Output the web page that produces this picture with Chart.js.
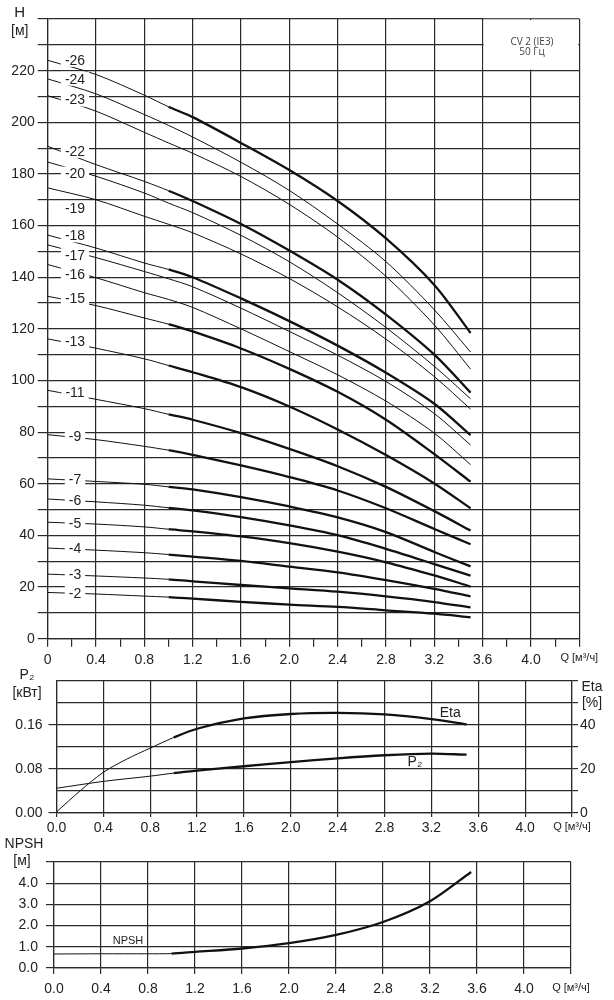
<!DOCTYPE html>
<html>
<head>
<meta charset="utf-8">
<script src="https://cdn.jsdelivr.net/npm/chart.js@4.4.1/dist/chart.umd.min.js"></script>
<style>
  html, body { margin: 0; padding: 0; background: #fff; }
  #wrap { position: relative; width: 614px; height: 1000px; }
  #wrap canvas { position: absolute; left: 0; }
</style>
</head>
<body>
<div id="wrap">
  <canvas id="headChart" width="614" height="672" style="top:0"></canvas>
  <canvas id="powerChart" width="614" height="176" style="top:664px"></canvas>
  <canvas id="npshChart" width="614" height="170" style="top:830px"></canvas>
</div>
<script>
// flow points, m3/h
const flow = [0, 0.4, 0.8, 1.0, 1.2, 1.6, 2.0, 2.4, 2.8, 3.2, 3.5];

// head per model, m
const head26 = [224, 218.5, 210.5, 206, 202, 192, 181.5, 169.5, 155, 137, 118.4];
const head24 = [216.8, 211, 203, 198.8, 194.3, 184.5, 173.6, 160.6, 146, 127.4, 111];
const head23 = [210.3, 204.3, 196.1, 192, 188, 179, 168.2, 155.5, 140.3, 121.5, 104.4];
const head22 = [190.7, 183.6, 177.1, 173.5, 169.5, 160.6, 150.3, 139, 125.5, 110, 95.3];
const head20 = [184.6, 179.1, 172.6, 168.7, 165, 156.2, 146, 134, 120.5, 105.5, 92.9];
const head19 = [174.6, 170, 163.6, 160.5, 157.2, 149, 139.5, 128.5, 116, 101.5, 88.9];
const head18 = [156.3, 151.3, 145.5, 143, 140, 131.8, 123, 113.5, 103, 91, 78.8];
const head17 = [152.5, 147.6, 142.2, 139.4, 136.3, 128, 119, 109.8, 99.6, 87.2, 75];
const head16 = [144.9, 139.8, 134, 131.4, 128.3, 120, 111.2, 102.2, 92, 79.6, 67.4];
const head15 = [132.6, 129, 124.2, 121.8, 119, 112.4, 104.5, 95.6, 84.8, 71.5, 60.8];
const head13 = [116.1, 112.5, 108.4, 105.8, 103.2, 97.4, 89.9, 81, 71.1, 60.1, 50.5];
const head11 = [96.2, 92.7, 89.1, 86.9, 84.8, 79.6, 73.5, 66.8, 58.8, 49.4, 41.9];
const head9 = [79, 77.1, 74.5, 73, 71.2, 67.1, 62.6, 57.4, 50.5, 42.5, 36.6];
const head7 = [61.9, 60.9, 59.8, 58.8, 57.8, 54.8, 51.2, 47, 41.3, 33.6, 28];
const head6 = [54.1, 53, 51.7, 50.7, 49.7, 47.1, 43.9, 40.1, 34.8, 28.9, 24.4];
const head5 = [45.1, 44.4, 43.3, 42.4, 41.6, 39.6, 37, 33.7, 29.6, 24.5, 20.2];
const head4 = [35.1, 34.3, 33.3, 32.6, 31.8, 30.1, 27.9, 25.7, 22.7, 19.3, 16.4];
const head3 = [25, 24.3, 23.5, 23, 22.2, 20.8, 19.5, 18.2, 16.4, 14.2, 12.1];
const head2 = [17.9, 17.3, 16.5, 16.1, 15.5, 14.3, 13.2, 12.3, 11, 9.7, 8.3];

const stages = ['-26', '-24', '-23', '-22', '-20', '-19', '-18', '-17', '-16', '-15',
                '-13', '-11', '-9', '-7', '-6', '-5', '-4', '-3', '-2'];
const headSeries = [head26, head24, head23, head22, head20, head19, head18, head17, head16, head15,
                    head13, head11, head9, head7, head6, head5, head4, head3, head2];

// power and efficiency
const etaFlow = [0, 0.2, 0.4, 0.6, 0.8, 1.0, 1.2, 1.6, 2.0, 2.4, 2.8, 3.2, 3.5];
const eta = [0.5, 10, 18.5, 24.5, 29.5, 34.3, 38.3, 43, 45, 45.5, 44.8, 42.7, 40.3];
const power = [0.045, 0.0575, 0.067, 0.0725, 0.077, 0.085, 0.0925, 0.0995, 0.105, 0.108, 0.106];

// NPSH
const npshFlow = [0, 0.4, 0.8, 1.0, 1.2, 1.6, 2.0, 2.4, 2.8, 3.2, 3.55];
const npsh = [0.66, 0.67, 0.67, 0.68, 0.76, 0.92, 1.17, 1.56, 2.17, 3.15, 4.53];

// tick labels
const flowTicks = [0, 0.4, 0.8, 1.2, 1.6, 2.0, 2.4, 2.8, 3.2, 3.6, 4.0];
const headTicks = [0, 20, 40, 60, 80, 100, 120, 140, 160, 180, 200, 220];
const powerTicks = [0, 0.08, 0.16];
const etaTicks = [0, 20, 40];
const npshTicks = [0, 1, 2, 3, 4];

const FONT = '"Liberation Sans", Arial, sans-serif';
const GRID = '#2a2a2a';
const INK = '#111';
const TEXT = '#222';
const CLEAR = 'rgba(0,0,0,0)';
const THICK = 2.3, THIN = 1;
const SMOOTH = 0.3;
const thickStages = new Set(['-26', '-22', '-18', '-15', '-13', '-11', '-9', '-7', '-6', '-5', '-4', '-3', '-2']);

Chart.defaults.font.family = FONT;
Chart.defaults.color = TEXT;

const has = (list, v) => list.some(t => Math.abs(t - v) < 1e-6);
const isQEnd = v => Math.abs(v - 4.4) < 1e-6;
const tickVal = c => (c && c.tick) ? c.tick.value : null;
const widthAfter1 = c => c.p0.parsed.x >= 0.999 ? THICK : THIN;

function flowAxis(height, tickLen, pad, step, zeroText) {
  return {
    type: 'linear', min: 0, max: 4.4,
    afterFit: s => { s.height = height; },
    ticks: {
      stepSize: step, autoSkip: false, maxRotation: 0, padding: pad, color: TEXT,
      font: c => {
        const v = tickVal(c);
        return { family: FONT, size: (v !== null && isQEnd(v)) ? 11 : 14 };
      },
      callback: v => {
        if (isQEnd(v)) return 'Q [м³/ч]';
        if (!has(flowTicks, v)) return '';
        return v === 0 ? zeroText : v.toFixed(1);
      }
    },
    grid: {
      color: c => {
        const v = tickVal(c);
        return (v === null || Math.round(v * 10) % 4 === 0) ? GRID : CLEAR;
      },
      tickColor: GRID, lineWidth: 1.2, tickLength: tickLen
    },
    border: { color: GRID, width: 1.2 }
  };
}

function textAt(ctx, str, x, y, size, align) {
  ctx.font = size + 'px ' + FONT;
  ctx.textAlign = align || 'center';
  ctx.textBaseline = 'middle';
  ctx.fillText(str, x, y);
}

// stage labels that break the curves near Q = 0
const labelNudge = { '-26': -4, '-24': -4, '-20': 8, '-19': 17, '-18': -3, '-17': 7, '-16': 6 };
const curveLabels = {
  id: 'curveLabels',
  afterDatasetsDraw(chart) {
    const { ctx, scales: { x, y } } = chart;
    ctx.save();
    chart.data.datasets.forEach(ds => {
      const a = ds.data[0], b = ds.data[1];
      const h = a.y + (b.y - a.y) * 0.1 / (b.x - a.x);
      const px = x.getPixelForValue(0.226);
      const py = y.getPixelForValue(h) + (labelNudge[ds.label] || 0);
      ctx.font = '14px ' + FONT;
      const w = ctx.measureText(ds.label).width + 8;
      ctx.fillStyle = '#fff';
      ctx.fillRect(px - w / 2, py - 7, w, 14);
      ctx.fillStyle = TEXT;
      textAt(ctx, ds.label, px, py + 1, 14);
    });
    ctx.restore();
  }
};

const headFrame = {
  id: 'headFrame',
  beforeDatasetsDraw(chart) {
    const { ctx, scales: { x, y } } = chart;
    const l = x.getPixelForValue(3.6), r = x.getPixelForValue(4.4);
    const t = y.getPixelForValue(240), b = y.getPixelForValue(220);
    ctx.save();
    ctx.fillStyle = '#fff';
    ctx.fillRect(l + 1, t + 1, r - l - 2, b - t - 2);
    ctx.fillStyle = '#444';
    ctx.font = '10px "Open Sans", sans-serif';
    ctx.textAlign = 'center';
    ctx.textBaseline = 'middle';
    ctx.fillText('CV 2 (IE3)', (l + r) / 2 + 1, t + 23);
    ctx.fillText('50 Гц', (l + r) / 2 + 1, t + 33);
    ctx.restore();
  },
  afterDraw(chart) {
    const { ctx, chartArea, scales: { x, y } } = chart;
    const l = x.getPixelForValue(3.6), r = x.getPixelForValue(4.4);
    const t = y.getPixelForValue(240);
    ctx.save();
    ctx.fillStyle = '#fff';
    ctx.fillRect(l + 1, t - 8, r - l - 2, 7.2);
    ctx.fillStyle = TEXT;
    textAt(ctx, 'H', chartArea.left - 28, 13, 15);
    textAt(ctx, '[м]', chartArea.left - 28, 31, 14);
    ctx.restore();
  }
};

new Chart(document.getElementById('headChart'), {
  type: 'line',
  data: {
    datasets: stages.map((name, i) => ({
      label: name,
      data: flow.map((q, k) => ({ x: q, y: headSeries[i][k] })),
      borderColor: INK,
      borderWidth: THIN,
      pointRadius: 0,
      tension: SMOOTH,
      segment: { borderWidth: thickStages.has(name) ? widthAfter1 : () => THIN }
    }))
  },
  options: {
    responsive: false,
    animation: false,
    layout: { padding: { left: 0, right: 614 - 579.3, top: 19, bottom: 0 } },
    plugins: { legend: { display: false }, tooltip: { enabled: false } },
    scales: {
      x: flowAxis(672 - 638.7, 8, 5, 0.2, '0'),
      y: {
        min: 0, max: 240,
        afterFit: s => { s.width = 47.7; },
        ticks: {
          stepSize: 10, autoSkip: false, padding: 3, color: TEXT, font: { size: 14 },
          callback: v => has(headTicks, v) ? String(v) : ''
        },
        grid: { color: GRID, lineWidth: 1.2, tickLength: 10 },
        border: { color: GRID, width: 1.2 }
      }
    }
  },
  plugins: [headFrame, curveLabels]
});

const powerText = {
  id: 'powerText',
  afterDraw(chart) {
    const { ctx, scales: { x, y, y1 } } = chart;
    ctx.save();
    ctx.fillStyle = TEXT;
    textAt(ctx, 'P₂', 27, 11, 14);
    textAt(ctx, '[кВт]', 27, 29, 14);
    textAt(ctx, 'Eta', 592, 23, 14);
    textAt(ctx, '[%]', 592, 39, 14);
    textAt(ctx, 'Eta', x.getPixelForValue(3.36), y1.getPixelForValue(45.2), 14);
    textAt(ctx, 'P₂', x.getPixelForValue(3.06), y.getPixelForValue(0.092), 14);
    ctx.restore();
  }
};

new Chart(document.getElementById('powerChart'), {
  type: 'line',
  data: {
    datasets: [
      {
        label: 'Eta', yAxisID: 'y1',
        data: etaFlow.map((q, k) => ({ x: q, y: eta[k] })),
        borderColor: INK, borderWidth: THIN, pointRadius: 0,
        tension: SMOOTH,
        segment: { borderWidth: widthAfter1 }
      },
      {
        label: 'P2', yAxisID: 'y',
        data: flow.map((q, k) => ({ x: q, y: power[k] })),
        borderColor: INK, borderWidth: THIN, pointRadius: 0,
        tension: SMOOTH,
        segment: { borderWidth: widthAfter1 }
      }
    ]
  },
  options: {
    responsive: false,
    animation: false,
    layout: { padding: { left: 0, right: 0, top: 17, bottom: 0 } },
    plugins: { legend: { display: false }, tooltip: { enabled: false } },
    scales: {
      x: flowAxis(176 - 149, 4, 3, 0.4, '0.0'),
      y: {
        position: 'left', min: 0, max: 0.24,
        afterFit: s => { s.width = 56.5; },
        ticks: {
          stepSize: 0.04, autoSkip: false, padding: 6, color: TEXT, font: { size: 14 },
          callback: v => has(powerTicks, v) ? v.toFixed(2) : ''
        },
        grid: {
          color: GRID, lineWidth: 1.2, tickLength: 8,
          tickColor: c => {
            const v = tickVal(c);
            return (v === null || has(powerTicks, v)) ? GRID : CLEAR;
          }
        },
        border: { color: GRID, width: 1.2 }
      },
      y1: {
        position: 'right', min: 0, max: 60,
        afterFit: s => { s.width = 614 - 572; },
        ticks: {
          stepSize: 10, autoSkip: false, padding: 2, color: TEXT, font: { size: 14 },
          callback: v => has(etaTicks, v) ? String(v) : ''
        },
        grid: { drawOnChartArea: false, color: GRID, lineWidth: 1.2, tickLength: 6 },
        border: { color: GRID, width: 1.2 }
      }
    }
  },
  plugins: [powerText]
});

const npshText = {
  id: 'npshText',
  afterDraw(chart) {
    const { ctx, scales: { x, y } } = chart;
    ctx.save();
    ctx.fillStyle = TEXT;
    textAt(ctx, 'NPSH', 24, 14, 14);
    textAt(ctx, '[м]', 22, 31, 14);
    textAt(ctx, 'NPSH', x.getPixelForValue(0.63), y.getPixelForValue(1.29), 11);
    ctx.restore();
  }
};

new Chart(document.getElementById('npshChart'), {
  type: 'line',
  data: {
    datasets: [{
      label: 'NPSH',
      data: npshFlow.map((q, k) => ({ x: q, y: npsh[k] })),
      borderColor: INK, borderWidth: THIN, pointRadius: 0,
      tension: SMOOTH,
      segment: { borderWidth: widthAfter1 }
    }]
  },
  options: {
    responsive: false,
    animation: false,
    layout: { padding: { left: 0, right: 614 - 571, top: 32, bottom: 0 } },
    plugins: { legend: { display: false }, tooltip: { enabled: false } },
    scales: {
      x: flowAxis(170 - 138, 6, 7, 0.4, '0.0'),
      y: {
        min: 0, max: 5,
        afterFit: s => { s.width = 54; },
        ticks: {
          stepSize: 1, autoSkip: false, padding: 8, color: TEXT, font: { size: 14 },
          callback: v => has(npshTicks, v) ? v.toFixed(1) : ''
        },
        grid: { color: GRID, lineWidth: 1.2, tickLength: 8 },
        border: { color: GRID, width: 1.2 }
      }
    }
  },
  plugins: [npshText]
});
</script>
</body>
</html>
